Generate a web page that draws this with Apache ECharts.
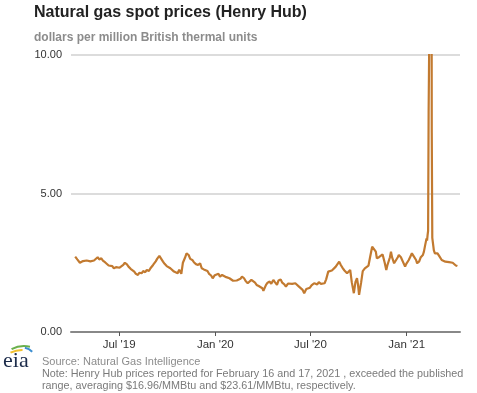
<!DOCTYPE html>
<html><head><meta charset="utf-8">
<script src="https://cdn.jsdelivr.net/npm/echarts@6/dist/echarts.min.js"></script>
<style>html,body{margin:0;padding:0;background:#fff}#c{width:477px;height:393px}</style>
</head><body><div id="c"></div>
<script>
var dates = [
'2019-04-08','2019-04-10','2019-04-12','2019-04-15','2019-04-17','2019-04-19','2019-04-23','2019-04-26','2019-04-30','2019-05-03','2019-05-07','2019-05-10','2019-05-14','2019-05-17','2019-05-21','2019-05-24','2019-05-28','2019-05-31','2019-06-04','2019-06-07','2019-06-11','2019-06-14','2019-06-18','2019-06-21','2019-06-25','2019-06-28','2019-07-02','2019-07-05','2019-07-09','2019-07-12','2019-07-16','2019-07-19','2019-07-23','2019-07-26','2019-07-30','2019-08-02','2019-08-06','2019-08-09','2019-08-13','2019-08-16','2019-08-20','2019-08-23','2019-08-27','2019-08-30','2019-09-04','2019-09-09','2019-09-12','2019-09-16','2019-09-19','2019-09-23','2019-09-26','2019-09-30','2019-10-03','2019-10-07','2019-10-10','2019-10-14','2019-10-17','2019-10-21','2019-10-24','2019-10-28','2019-10-31','2019-11-04','2019-11-07','2019-11-11','2019-11-14','2019-11-18','2019-11-21','2019-11-25','2019-11-29','2019-12-03','2019-12-06','2019-12-10','2019-12-13','2019-12-17','2019-12-20','2019-12-24','2019-12-27','2019-12-31',
'2020-01-03','2020-01-07','2020-01-10','2020-01-14','2020-01-17','2020-01-22','2020-01-24','2020-01-28','2020-01-31','2020-02-04','2020-02-07','2020-02-11','2020-02-14','2020-02-18','2020-02-21','2020-02-25','2020-02-28','2020-03-03','2020-03-06','2020-03-10','2020-03-13','2020-03-17','2020-03-20','2020-03-24','2020-03-27','2020-03-31','2020-04-02','2020-04-07','2020-04-10','2020-04-14','2020-04-17','2020-04-21','2020-04-24','2020-04-28','2020-05-01','2020-05-05','2020-05-08','2020-05-12','2020-05-15','2020-05-19','2020-05-22','2020-05-27','2020-05-29','2020-06-02','2020-06-05','2020-06-09','2020-06-12','2020-06-16','2020-06-19','2020-06-23','2020-06-26','2020-06-30','2020-07-03','2020-07-08','2020-07-10','2020-07-14','2020-07-17','2020-07-21','2020-07-24','2020-07-28','2020-07-31','2020-08-04','2020-08-07','2020-08-11','2020-08-14','2020-08-18','2020-08-21','2020-08-25','2020-08-28','2020-09-01','2020-09-04','2020-09-09','2020-09-11','2020-09-15','2020-09-18','2020-09-22','2020-09-25','2020-09-28','2020-09-30','2020-10-02','2020-10-06','2020-10-09','2020-10-13','2020-10-16','2020-10-20','2020-10-23','2020-10-27','2020-10-30','2020-11-03','2020-11-05','2020-11-09','2020-11-12','2020-11-16','2020-11-19','2020-11-20','2020-11-23','2020-11-25','2020-11-30','2020-12-02','2020-12-04','2020-12-08','2020-12-11','2020-12-15','2020-12-17','2020-12-21','2020-12-24','2020-12-29','2020-12-31',
'2021-01-05','2021-01-08','2021-01-11','2021-01-14','2021-01-19','2021-01-21','2021-01-25','2021-01-28','2021-02-01','2021-02-03','2021-02-05','2021-02-08','2021-02-09','2021-02-10','2021-02-11','2021-02-12','2021-02-16','2021-02-17','2021-02-18','2021-02-19','2021-02-22','2021-02-24','2021-02-26','2021-03-01','2021-03-03','2021-03-05','2021-03-09','2021-03-12','2021-03-16','2021-03-19','2021-03-23','2021-03-26','2021-03-30','2021-04-01','2021-04-05','2021-04-08'
];
var prices = [
2.72,2.68,2.62,2.55,2.50,2.48,2.56,2.52,2.58,2.60,2.55,2.62,2.58,2.64,2.70,2.62,2.66,2.58,2.52,2.45,2.40,2.36,2.38,2.30,2.34,2.30,2.32,2.30,2.42,2.50,2.44,2.36,2.28,2.22,2.18,2.10,2.06,2.14,2.12,2.20,2.16,2.24,2.20,2.30,2.42,2.55,2.65,2.75,2.66,2.54,2.46,2.38,2.36,2.30,2.28,2.18,2.24,2.12,2.25,2.10,2.50,2.68,2.84,2.78,2.64,2.60,2.52,2.45,2.42,2.48,2.30,2.26,2.22,2.20,2.10,2.04,1.94,2.05,
2.12,2.10,2.00,2.06,2.02,1.98,2.00,1.94,1.90,1.85,1.88,1.86,1.90,1.92,2.00,1.94,1.84,1.76,1.80,1.88,1.82,1.78,1.70,1.66,1.64,1.58,1.49,1.70,1.78,1.82,1.74,1.88,1.80,1.70,1.86,1.90,1.78,1.72,1.64,1.75,1.82,1.74,1.70,1.76,1.70,1.64,1.58,1.52,1.40,1.55,1.52,1.60,1.68,1.76,1.82,1.72,1.80,1.74,1.78,1.76,1.90,2.18,2.14,2.22,2.24,2.35,2.40,2.54,2.42,2.30,2.22,2.12,2.18,2.24,1.80,1.40,1.80,1.94,1.70,1.34,1.80,2.20,2.30,2.24,2.40,2.70,3.08,3.06,2.90,2.66,2.70,2.66,2.80,2.84,2.50,2.24,2.40,2.70,2.90,2.70,2.48,2.55,2.70,2.78,2.70,2.72,2.36,2.45,
2.60,2.72,2.84,2.75,2.60,2.48,2.55,2.70,2.78,2.90,3.10,3.38,3.30,3.50,3.65,7.92,16.96,23.61,7.20,3.40,2.95,2.84,2.78,2.84,2.84,2.72,2.60,2.56,2.54,2.50,2.52,2.48,2.50,2.44,2.40,2.38
];
var xTickDates = ['2019-07-01','2020-01-01','2020-07-01','2021-01-01'];
var xTickLabels = ["Jul '19","Jan '20","Jul '20","Jan '21"];
var yTicks = [0, 5, 10];

function ts(d){ return Date.UTC(+d.slice(0,4), +d.slice(5,7)-1, +d.slice(8,10)); }
var tickTs = xTickDates.map(ts);
var seriesData = dates.map(function(d,i){return [ts(d), prices[i]];});

var chart = echarts.init(document.getElementById('c'), null, {renderer:'canvas'});
chart.setOption({
  animation:false,
  backgroundColor:'#fff',
  title:[
    {text:'Natural gas spot prices (Henry Hub)', left:34, top:5, padding:0,
     textStyle:{fontFamily:'Liberation Sans, Arial', fontSize:16, fontWeight:'bold', color:'#222'}},
    {text:'dollars per million British thermal units', left:34, top:32, padding:0,
     textStyle:{fontFamily:'Liberation Sans, Arial', fontSize:12, fontWeight:'bold', color:'#8c8c8c'}}
  ],
  grid:{left:71, right:17, top:55, bottom:61, containLabel:false},
  xAxis:{
    type:'value',
    min:ts('2019-03-31'),
    max:ts('2021-04-13'),
    axisLine:{show:true, lineStyle:{color:'#888', width:2}},
    axisTick:{show:true, customValues:tickTs, length:4, lineStyle:{color:'#555', width:1}},
    axisLabel:{customValues:tickTs, margin:7, fontFamily:'Liberation Sans, Arial', fontSize:11.5, color:'#333',
      formatter:function(v){var i=tickTs.indexOf(v); return i>=0?xTickLabels[i]:'';}},
    splitLine:{show:false}
  },
  yAxis:{
    type:'value', min:yTicks[0], max:yTicks[yTicks.length-1], interval:5,
    axisLine:{show:false}, axisTick:{show:false},
    axisLabel:{margin:9, fontFamily:'Liberation Sans, Arial', fontSize:11, color:'#333',
      formatter:function(v){return v.toFixed(2);}},
    splitLine:{show:true, lineStyle:{color:'#dcdcdc', width:2}}
  },
  series:[{
    type:'line', data:seriesData, showSymbol:false, symbol:'none', clip:true,
    lineStyle:{color:'#c27a30', width:2.2}, z:3
  }],
  graphic:[
    {type:'arc', shape:{cx:22, cy:376, r:26, startAngle:-2.03, endAngle:-1.55}, style:{stroke:'#f2c12e', lineWidth:2, fill:null}},
    {type:'arc', shape:{cx:24, cy:372, r:26, startAngle:-2.07, endAngle:-1.34}, style:{stroke:'#6ab04c', lineWidth:2, fill:null}},
    {type:'arc', shape:{cx:22, cy:362, r:14.5, startAngle:-1.37, endAngle:-0.79}, style:{stroke:'#3d8fd1', lineWidth:2, fill:null}},
    {type:'text', left:3, top:350, style:{text:'eia', fontFamily:'Liberation Serif, DejaVu Serif, serif', fontSize:22, fill:'#1c2b4a'}},
    {type:'text', left:42, top:356, style:{text:'Source: Natural Gas Intelligence', fontFamily:'Liberation Sans, Arial', fontSize:11, fill:'#8c8c8c'}},
    {type:'text', left:42, top:369, style:{text:'Note: Henry Hub prices reported for February 16 and 17, 2021 , exceeded the published', fontFamily:'Liberation Sans, Arial', fontSize:10.8, fill:'#7a7a7a'}},
    {type:'text', left:42, top:381, style:{text:'range, averaging $16.96/MMBtu and $23.61/MMBtu, respectively.', fontFamily:'Liberation Sans, Arial', fontSize:10.8, fill:'#7a7a7a'}}
  ]
});
</script></body></html>
